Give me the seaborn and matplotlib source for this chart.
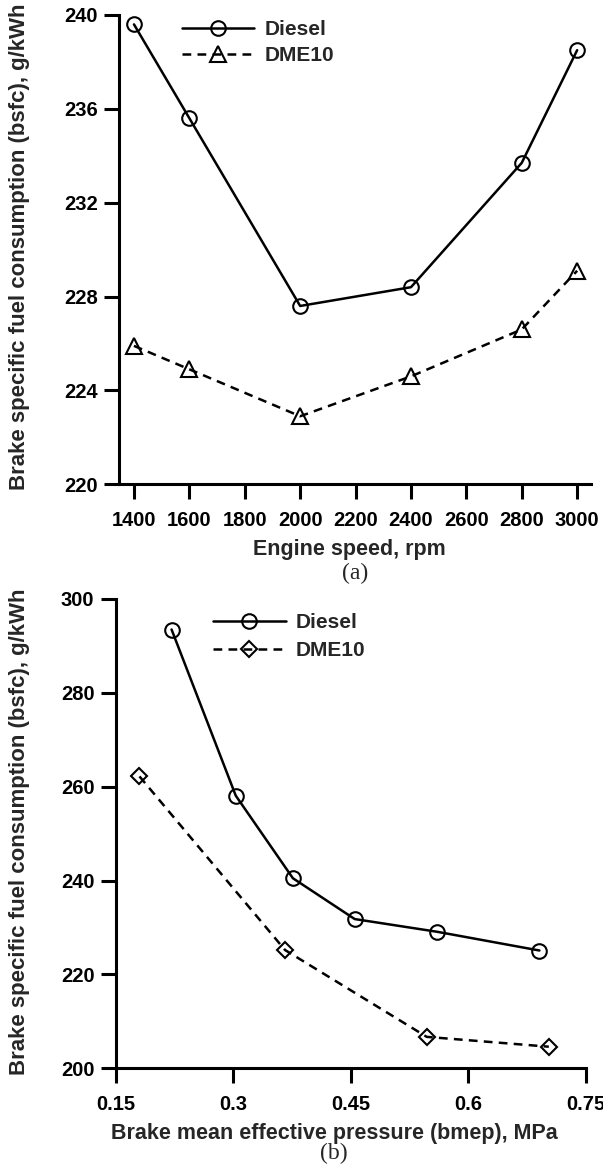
import matplotlib
matplotlib.use("Agg")
import matplotlib.pyplot as plt
import seaborn as sns
import pandas as pd

sns.set_theme(style="ticks")
plt.rcParams['font.family'] = ['Liberation Sans', 'DejaVu Sans']
plt.rcParams['font.weight'] = 'bold'

# Panel (a) data
speed_rpm = [1400, 1600, 2000, 2400, 2800, 3000]
diesel_a = [239.6, 235.6, 227.6, 228.4, 233.7, 238.5]
dme10_a = [225.9, 224.9, 222.9, 224.6, 226.6, 229.1]

# Panel (b) data
bmep_diesel = [0.221, 0.303, 0.376, 0.455, 0.560, 0.691]
diesel_b = [293.5, 258.1, 240.5, 231.8, 229.1, 225.1]
bmep_dme10 = [0.180, 0.366, 0.547, 0.703]
dme10_b = [262.2, 225.2, 206.7, 204.6]

xticks_a = [1400, 1600, 1800, 2000, 2200, 2400, 2600, 2800, 3000]
yticks_a = [220, 224, 228, 232, 236, 240]
xticks_b = [0.15, 0.3, 0.45, 0.6, 0.75]
xticklabels_b = ["0.15", "0.3", "0.45", "0.6", "0.75"]
yticks_b = [200, 220, 240, 260, 280, 300]

W, H = 603, 1175
fig = plt.figure(figsize=(W / 100, H / 100), dpi=100)

def box(l, t, r, b):
    return [l / W, 1 - b / H, (r - l) / W, (b - t) / H]

ax1 = fig.add_axes(box(119.3, 15, 591, 484.3))
ax2 = fig.add_axes(box(116, 599, 585.6, 1068.3))

fs_tick = 14.5
fs_lab = 15.5
fs_ylab = 16
fs_leg = 15
lw = 1.8
dash = (0, (3.5, 2.5))
mk = dict(markerfacecolor="none", markeredgecolor="black", markeredgewidth=1.5)

da = pd.DataFrame({"x": speed_rpm, "Diesel": diesel_a, "DME10": dme10_a})
sns.lineplot(data=da, x="x", y="Diesel", ax=ax1, color="black", lw=lw,
             marker="o", markersize=10.5, label="Diesel", **mk)
sns.lineplot(data=da, x="x", y="DME10", ax=ax1, color="black", lw=lw,
             linestyle=dash, marker="^", markersize=11, label="DME10", **mk)

db1 = pd.DataFrame({"x": bmep_diesel, "y": diesel_b})
db2 = pd.DataFrame({"x": bmep_dme10, "y": dme10_b})
sns.lineplot(data=db1, x="x", y="y", ax=ax2, color="black", lw=lw,
             marker="o", markersize=10.5, label="Diesel", **mk)
sns.lineplot(data=db2, x="x", y="y", ax=ax2, color="black", lw=lw,
             linestyle=dash, marker="D", markersize=8, label="DME10", **mk)

ax1.set_xlim(1347, 3050)
ax1.set_ylim(220, 240)
ax1.set_xticks(xticks_a)
ax1.set_yticks(yticks_a)
ax1.set_xlabel("Engine speed, rpm", fontsize=fs_lab, fontweight="bold")
ax1.xaxis.set_label_coords(0.488, (484.3 - 550) / 469.3)

ax2.set_xlim(0.15, 0.75)
ax2.set_ylim(200, 300)
ax2.set_xticks(xticks_b)
ax2.set_xticklabels(xticklabels_b)
ax2.set_yticks(yticks_b)
ax2.set_xlabel("Brake mean effective pressure (bmep), MPa", fontsize=fs_lab,
               fontweight="bold")
ax2.xaxis.set_label_coords(0.466, (1068.3 - 1133) / 469.3)

for ax in (ax1, ax2):
    sns.despine(ax=ax)
    ax.set_ylabel("")
    ax.xaxis.label.set_va("center")
    for s in ("left", "bottom"):
        ax.spines[s].set_linewidth(2.2)
        ax.spines[s].set_color("black")
    ax.tick_params(axis="x", direction="out", length=11, width=2.2,
                   color="black", labelsize=fs_tick, pad=8, labelcolor="black")
    ax.tick_params(axis="y", direction="out", length=10.5, width=2.2,
                   color="black", labelsize=fs_tick, pad=5, labelcolor="black")
    for t in ax.get_xticklabels() + ax.get_yticklabels():
        t.set_fontweight("bold")
    ax.grid(False)

leg1 = ax1.legend(loc="upper left", bbox_to_anchor=(0.132, 0.989), frameon=False,
                  fontsize=fs_leg, handlelength=3.5, handletextpad=0.5,
                  labelspacing=0.33, borderaxespad=0, borderpad=0)
leg2 = ax2.legend(loc="upper left", bbox_to_anchor=(0.206, 0.970), frameon=False,
                  fontsize=fs_leg, handlelength=3.5, handletextpad=0.5,
                  labelspacing=0.42, borderaxespad=0, borderpad=0)
for leg in (leg1, leg2):
    for t in leg.get_texts():
        t.set_fontweight("bold")

ylab = "Brake specific fuel consumption (bsfc), g/kWh"
fig.text(19.5 / W, 1 - 246.5 / H, ylab, rotation=90, ha="center", va="center",
         fontsize=fs_ylab, fontweight="bold")
fig.text(19.5 / W, 1 - 832 / H, ylab, rotation=90, ha="center", va="center",
         fontsize=fs_ylab, fontweight="bold")

serif = ["Liberation Serif", "DejaVu Serif"]
fig.text(355 / W, 1 - 573 / H, "(a)", ha="center", va="center", fontsize=17,
         family=serif, fontweight="normal")
fig.text(334 / W, 1 - 1153 / H, "(b)", ha="center", va="center", fontsize=17,
         family=serif, fontweight="normal")

fig.savefig("out.png", dpi=100)
